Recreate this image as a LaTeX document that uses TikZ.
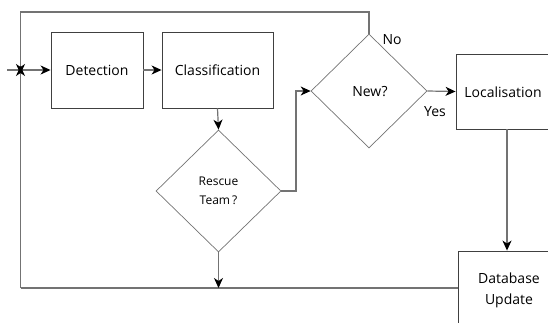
\documentclass[tikz,border=0pt]{standalone}
\usepackage{fontspec}
\setmainfont{Open Sans}
\usetikzlibrary{shapes.geometric,arrows.meta}
\begin{document}
\begin{tikzpicture}[x=1pt,y=-1pt,
  box/.style={draw=black!75,line width=0.9pt,rectangle,inner sep=0pt},
  dec/.style={draw=black!55,line width=0.7pt,diamond,inner sep=0pt},
  conn/.style={draw=black!55,line width=1.2pt},
  arr/.style={conn,-{Stealth[black,length=10pt,width=9pt,inset=3pt]}},
  lbl/.style={font=\fontsize{14}{16}\selectfont,inner sep=0pt}]
\path[use as bounding box] (0,0) rectangle (548,322);
\clip (0,0) rectangle (548,322);
\node[box,minimum width=92pt,minimum height=76pt] (det) at (97,70) {};
\node[lbl] (dett) at (97,70) {Detection};
\node[box,minimum width=111pt,minimum height=76pt] (cls) at (217.5,70) {};
\node[lbl] (clst) at (217.5,70) {Classification};
\node[dec,minimum width=125pt,minimum height=122pt] (resc) at (218.5,191) {};
\node[lbl,font=\fontsize{12}{19}\selectfont,align=center] (resct) at (218.5,191) {Rescue\\Team\,?};
\node[dec,minimum width=116pt,minimum height=114pt] (new) at (369,91) {};
\node[lbl] (newt) at (370,92) {New?};
\node[box,minimum width=110pt,minimum height=75pt] (loc) at (511,91.5) {};
\node[lbl] (loct) at (503,92) {Localisation};
\node[box,minimum width=110pt,minimum height=110pt] (db) at (513,306) {};
\node[lbl,align=center,font=\fontsize{14}{21}\selectfont] (dbt) at (509,290) {Database\\Update};
\node[lbl] (no) at (392,40) {No};
\node[lbl] (yes) at (435,112) {Yes};
\coordinate (in) at (7,70);
\coordinate (j) at (20.5,70);
\coordinate (tl) at (20.5,12);
\coordinate (bl) at (20.5,288);
\coordinate (rb) at (218.5,288);
% main flow
\draw[arr] (in) -- (det.west);
\draw[arr] (det.east) -- (cls.west);
\draw[arr] (cls.south) -- (resc.north);
\draw[arr] (resc.east) -- (296,191) |- (new.west);
\draw[arr] (new.east) -- (loc.west);
\draw[arr] (loc.south -| 507,0) -- (db.north -| 507,0);
% No loop
\draw[arr] (new.north) |- (tl) -- ([yshift=-4pt]j);
% bottom loop
\draw[conn] (db.west |- bl) -- (bl);
\draw[arr] (bl) -- ([yshift=4pt]j);
\draw[arr] (resc.south) -- (rb);
\end{tikzpicture}
\end{document}
